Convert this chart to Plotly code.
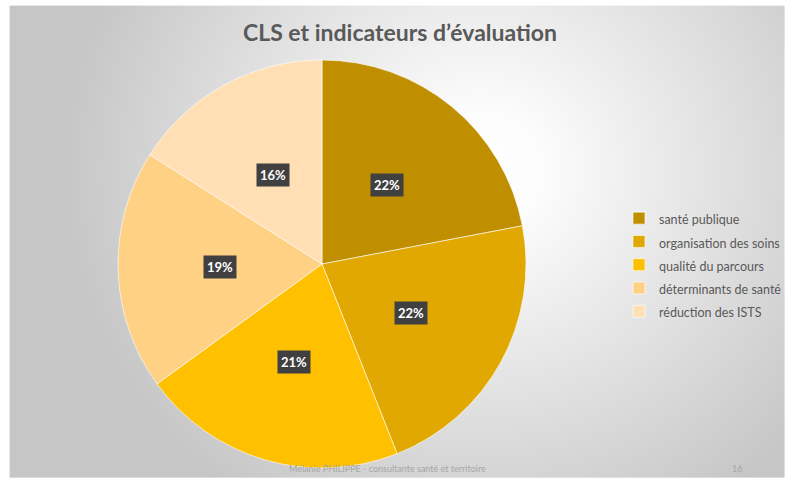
import numpy as np
import plotly.graph_objects as go

# ---- data ----
categories = ["santé publique", "organisation des soins", "qualité du parcours",
              "déterminants de santé", "réduction des ISTS"]
values = [22, 22, 21, 19, 16]
colors = ["#BF8F00", "#E0A800", "#FFC000", "#FFD185", "#FFDFB3"]
title_text = "CLS et indicateurs d’évaluation"
footer_text = "Mélanie PHILIPPE - consultante santé et territoire"
page_number = "16"

W, H = 785, 478
CX, CY, R = 322, 264, 204  # pie centre / radius in pixels
FONT = "Lato, 'Open Sans', sans-serif"

fig = go.Figure()

# ---- background radial gradient (decoration) ----
gx = np.linspace(12, W, 160)
gy = np.linspace(8, H, 100)
X, Y = np.meshgrid(gx, gy)
D = np.sqrt(((X - 480) / 420) ** 2 + ((Y - 170) / 400) ** 2)
D = np.clip(D, 0, 1)
fig.add_trace(go.Heatmap(
    x=gx, y=gy, z=D, zmin=0, zmax=1, zsmooth="best", showscale=False,
    hoverinfo="skip",
    colorscale=[[0, "#ffffff"], [0.15, "#fcfcfc"], [1, "#c6c6c6"]],
))

# ---- pie ----
legend_labels = [f"<span style='font-size:12.5px'>{c}</span>" for c in categories]
fig.add_trace(go.Pie(
    labels=legend_labels, values=values, sort=False, direction="clockwise",
    rotation=0, textinfo="none", hovertext=categories, hoverinfo="text+percent",
    marker=dict(colors=colors, line=dict(color="rgba(255,255,255,0.6)", width=1)),
    domain=dict(x=[(CX - R) / W, (CX + R) / W],
                y=[(H - CY - R) / H, (H - CY + R) / H]),
))

# ---- data labels (boxes at half radius, mid-angle of each slice) ----
total = sum(values)
cum = 0
annotations = []
for v in values:
    mid = (cum + v / 2) / total
    th = 2 * np.pi * mid
    px = CX + 0.5 * R * np.sin(th)
    py = CY - 0.5 * R * np.cos(th)
    annotations.append(dict(
        x=px, y=py, xref="x", yref="y", text=f"<b>{round(100 * v / total)}%</b>",
        showarrow=False, bgcolor="#404040", borderpad=3,
        font=dict(family=FONT, size=13, color="white"),
    ))
    cum += v

annotations.append(dict(x=400, y=32, xref="x", yref="y", text=f"<b>{title_text}</b>",
                        showarrow=False, font=dict(family=FONT, size=23, color="#595959")))
annotations.append(dict(x=387, y=468, xref="x", yref="y", text=footer_text, showarrow=False,
                        font=dict(family=FONT, size=9, color="#a6a6a6")))
annotations.append(dict(x=737, y=468, xref="x", yref="y", text=page_number, showarrow=False,
                        font=dict(family=FONT, size=9, color="#a6a6a6")))

fig.update_layout(
    width=W, height=H,
    margin=dict(l=0, r=0, t=0, b=0, autoexpand=False),
    paper_bgcolor="white", plot_bgcolor="white",
    xaxis=dict(range=[0, W], visible=False, fixedrange=True),
    yaxis=dict(range=[H, 0], visible=False, fixedrange=True),
    showlegend=True,
    legend=dict(x=619 / W, y=(H - 265) / H, xanchor="left", yanchor="middle",
                bgcolor="rgba(0,0,0,0)",
                font=dict(family=FONT, size=15.6, color="#595959")),
    annotations=annotations,
)

fig.write_html("out.html", config={"displayModeBar": False},
               post_script="document.body.style.margin='0';document.body.style.overflow='hidden';")
